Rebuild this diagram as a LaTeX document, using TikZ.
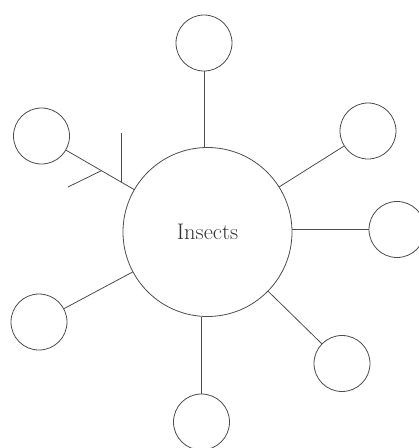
\documentclass[tikz,border=0pt]{standalone}
\usepackage{tikz}

\begin{document}
\begin{tikzpicture}[x=1pt, y=-1pt, line width=0.8pt,
  hub/.style={draw=black!70, circle, inner sep=0pt, minimum size=169pt},
  leaf/.style={draw=black!70, circle, inner sep=0pt, minimum size=56pt},
  spoke/.style={draw=black!70}]
\useasboundingbox (0,0) rectangle (419,448);

% Central circle
\node[hub, text=black!80] (ins) at (207.5,232) {\fontsize{22.5}{26}\selectfont Insects};

% Outer circles
\node[leaf] (top) at (204,43) {};
\node[leaf] (ul) at (41.5,136) {};
\node[leaf] (ur) at (368,131) {};
\node[leaf] (rt) at (397,229.5) {};
\node[leaf] (ll) at (39,322) {};
\node[leaf] (lr) at (342,363.5) {};
\node[leaf] (bot) at (201.5,422) {};

% Spokes
\draw[spoke] (top) -- (top |- ins.north);
\draw[spoke] (ur) -- (ins);
\draw[spoke] (ins.east |- rt.west) -- (rt.west);
\draw[spoke] (ll) -- (ins);
\draw[spoke] (lr) -- (ins);
\draw[spoke] (bot.north) -- (bot.north |- ins.south);

% Upper left spoke with its two side strokes
\draw[spoke] (ins) -- coordinate[pos=0.18] (k1) coordinate[pos=0.48] (k2) (ul);
\coordinate (t1) at (124,133);
\coordinate (b1) at (68,187);
\draw[spoke] (k1) -- (k1 |- t1);
\draw[spoke] (k2) -- (b1);

\end{tikzpicture}
\end{document}
